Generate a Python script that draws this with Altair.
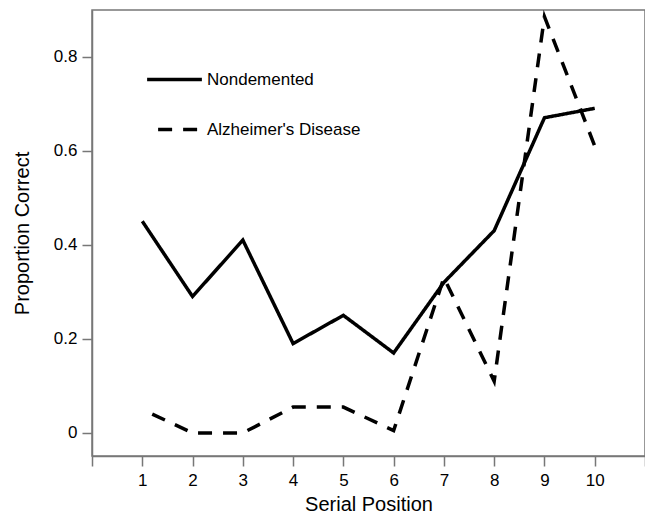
import altair as alt
import pandas as pd

positions = [1, 2, 3, 4, 5, 6, 7, 8, 9, 10]
nondemented = [0.45, 0.29, 0.41, 0.19, 0.25, 0.17, 0.32, 0.43, 0.67, 0.69]
alzheimers = [0.05, 0.0, 0.0, 0.055, 0.055, 0.005, 0.33, 0.11, 0.885, 0.61]
groups = ["Nondemented", "Alzheimer's Disease"]

rows = []
for p, v in zip(positions, nondemented):
    rows.append({"pos": p, "val": v, "group": groups[0]})
for p, v in zip(positions, alzheimers):
    rows.append({"pos": p, "val": v, "group": groups[1]})
df = pd.DataFrame(rows)

FONT = "Liberation Sans"

chart = alt.Chart(df).mark_line(strokeWidth=3.5, strokeDashOffset=14, color="black").encode(
    x=alt.X("pos:Q",
            scale=alt.Scale(domain=[0, 11], nice=False, zero=False),
            axis=alt.Axis(values=list(range(0, 12)), title="Serial Position",
                          labelExpr="datum.value == 0 || datum.value == 11 ? '' : datum.label",
                          grid=False, tickSize=10, labelPadding=6, labelFontSize=17,
                          titleFontSize=20, titleFontWeight="normal",
                          titleY=48, titleBaseline="middle")),
    y=alt.Y("val:Q",
            scale=alt.Scale(domain=[-0.049, 0.899], nice=False, zero=False),
            axis=alt.Axis(values=[0, 0.2, 0.4, 0.6, 0.8], title="Proportion Correct",
                          labelExpr="datum.value == 0 ? '0' : format(datum.value, '.1f')",
                          grid=False, tickSize=10, labelPadding=5, labelFontSize=17,
                          titleFontSize=20, titleFontWeight="normal",
                          titleX=-70, titleY=223, titleBaseline="middle", titleAngle=-90)),
    strokeDash=alt.StrokeDash("group:N",
                              scale=alt.Scale(domain=groups, range=[[1, 0], [14, 11]]),
                              legend=alt.Legend(title=None, orient="none", legendX=53, legendY=40,
                                                symbolType="stroke", symbolSize=3000,
                                                symbolStrokeWidth=3.5, symbolStrokeColor="black",
                                                symbolDashOffset=14,
                                                labelFontSize=17, labelOffset=3,
                                                rowPadding=12, labelFont=FONT, labelColor="black")),
).properties(
    width=553, height=446,
    autosize=alt.AutoSizeParams(type="none"),
    padding={"left": 84, "top": 2, "right": 0, "bottom": 58},
).configure_view(
    stroke="#777", strokeWidth=1.5
).configure_axis(
    domainColor="#777", domainWidth=1.5, tickColor="#777", tickWidth=1.5,
    labelColor="black", titleColor="black", labelFont=FONT, titleFont=FONT
)

chart.save("out.html", embed_options={"renderer": "svg", "actions": False})
